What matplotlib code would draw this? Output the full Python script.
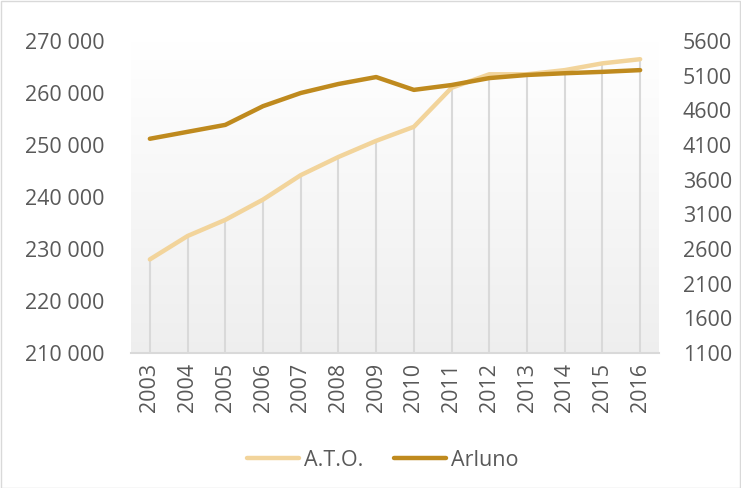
import numpy as np
import matplotlib
matplotlib.use("Agg")
import matplotlib.pyplot as plt
from matplotlib.patches import Rectangle
from matplotlib.lines import Line2D

years = ["2003", "2004", "2005", "2006", "2007", "2008", "2009",
         "2010", "2011", "2012", "2013", "2014", "2015", "2016"]
ato = [228000, 232500, 235600, 239500, 244200, 247700, 250800,
       253500, 261000, 263600, 263600, 264400, 265700, 266500]
arluno = [4190, 4290, 4390, 4660, 4850, 4980, 5080,
          4895, 4965, 5065, 5110, 5135, 5155, 5180]
left_ticks = [210000, 220000, 230000, 240000, 250000, 260000, 270000]
right_ticks = [1100, 1600, 2100, 2600, 3100, 3600, 4100, 4600, 5100, 5600]

C_ATO = "#F2D49B"
C_ARL = "#BF8A1E"
TXT = "#595959"
FS = 15.5

plt.rcParams['font.family'] = ['Open Sans', 'DejaVu Sans']

fig = plt.figure(figsize=(7.41, 4.88), dpi=100)
W, H = 741, 488
ax = fig.add_axes([131 / W, 1 - 353 / H, (659 - 131) / W, (353 - 41) / H])
ax2 = ax.twinx()

x = np.arange(len(years))
ax.set_xlim(-0.5, len(years) - 0.5)
ax.set_ylim(left_ticks[0], left_ticks[-1])
ax2.set_ylim(right_ticks[0], right_ticks[-1])

# gradient background
grad = np.linspace(0, 1, 256).reshape(-1, 1, 1)
top = np.array([1.0, 1.0, 1.0])
bot = np.array([0.935, 0.935, 0.935])
img = top * (1 - grad) + bot * grad
ax.imshow(img, extent=[-0.5, len(years) - 0.5, left_ticks[0], left_ticks[-1]],
          aspect='auto', zorder=0, origin='upper')

# drop lines
ax.vlines(x, left_ticks[0], ato, color="#D9D9D9", lw=1.5, zorder=1)

ax.plot(x, ato, color=C_ATO, lw=3.2, solid_capstyle='round', zorder=3)
ax2.plot(x, arluno, color=C_ARL, lw=3.2, solid_capstyle='round', zorder=3)

for a in (ax, ax2):
    for s in a.spines.values():
        s.set_visible(False)
ax.spines['bottom'].set_visible(True)
ax.spines['bottom'].set_color("#D9D9D9")
ax.spines['bottom'].set_linewidth(1.5)

ax.set_xticks(x)
ax.set_xticklabels(years, rotation=90, fontsize=FS, color=TXT)
ax.set_yticks(left_ticks)
ax.set_yticklabels([f"{v:,}".replace(",", " ") for v in left_ticks], fontsize=FS, color=TXT)
ax2.set_yticks(right_ticks)
ax2.set_yticklabels([str(v) for v in right_ticks], fontsize=FS, color=TXT)
ax.tick_params(axis='x', length=0, pad=7)
ax.tick_params(axis='y', length=0, pad=19)
ax2.tick_params(axis='y', length=0, pad=17)

handles = [Line2D([], [], color=C_ATO, lw=3.2, solid_capstyle='round'),
           Line2D([], [], color=C_ARL, lw=3.2, solid_capstyle='round')]
fig.legend(handles, ["A.T.O.", "Arluno"], loc='center', bbox_to_anchor=(383 / W, 1 - 460 / H),
           ncol=2, frameon=False, fontsize=FS, labelcolor=TXT, handlelength=2.4,
           handletextpad=0.25, columnspacing=1.4)

fig.patches.append(Rectangle((0.5 / W, 0.5 / H), 1 - 1.5 / W, 1 - 1.5 / H,
                             transform=fig.transFigure, fill=False,
                             edgecolor="#D9D9D9", lw=1))

fig.savefig("out.png", dpi=100)
